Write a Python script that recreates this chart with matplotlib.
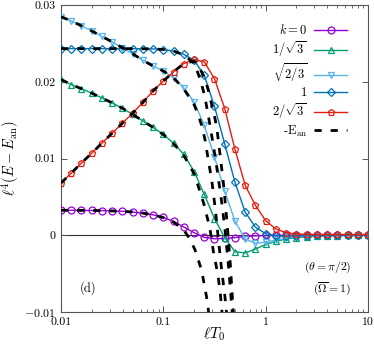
import matplotlib
matplotlib.use("Agg")
import matplotlib.pyplot as plt
import numpy as np
from matplotlib.ticker import FixedLocator, FixedFormatter, LogLocator, NullFormatter

plt.rcParams['mathtext.fontset'] = 'cm'
plt.rcParams['font.family'] = ['cmr10', 'DejaVu Serif']
plt.rcParams['axes.formatter.use_mathtext'] = True

# ---------------- data ----------------
lT = [0.01, 0.0126, 0.0158, 0.02, 0.0251, 0.0316, 0.0398, 0.0501, 0.0631, 0.0794,
      0.1, 0.126, 0.158, 0.2, 0.251, 0.316, 0.398, 0.501, 0.631, 0.794,
      1.0, 1.26, 1.58, 2.0, 2.51, 3.16, 3.98, 5.01, 6.31, 7.94, 10.0]

k0 = [0.00326, 0.00325, 0.00324, 0.00323, 0.00321, 0.00317, 0.00312, 0.00303, 0.00288, 0.00266,
      0.00232, 0.00180, 0.00108, 0.00033, -0.00028, -0.00046, -0.00042, -0.00030, -0.00016, -0.00007,
      -0.00003, -0.00001, -0.00001, 0.0, 0.0, 0.0, 0.0, 0.0, 0.0, 0.0, 0.0]

k_1s3 = [0.0203, 0.01963, 0.0191, 0.0185, 0.0179, 0.01724, 0.01655, 0.01575, 0.0149, 0.01405,
         0.01314, 0.01198, 0.01055, 0.0083, 0.00534, 0.00217, -0.0003, -0.00215, -0.0023, -0.0018,
         -0.0012, -0.0008, -0.0005, -0.0003, -0.0002, -0.00012, -0.00008, -0.00005, -0.00003, -0.00002, -0.00001]

k_s23 = [0.02847, 0.02792, 0.0273, 0.02662, 0.0259, 0.0252, 0.02443, 0.02365, 0.0228, 0.02205,
         0.0214, 0.02055, 0.01924, 0.01737, 0.01433, 0.0102, 0.00573, 0.00185, -0.0005, -0.00105,
         -0.0009, -0.0006, -0.0004, -0.00025, -0.00015, -0.0001, -0.00006, -0.00004, -0.00002, -0.00001, 0.0]

k_1 = [0.02432, 0.02432, 0.02432, 0.02432, 0.02432, 0.02432, 0.02432, 0.02431, 0.0243, 0.02428,
       0.0242, 0.0240, 0.02358, 0.0228, 0.02085, 0.0168, 0.0119, 0.0069, 0.0030, 0.00105,
       0.0002, -0.0001, -0.0001, -0.00008, -0.00005, -0.00003, -0.00002, -0.00001, 0.0, 0.0, 0.0]

k_2s3 = [0.0068, 0.0081, 0.0094, 0.0107, 0.0120, 0.0133, 0.0146, 0.0159, 0.0173, 0.0188,
         0.0201, 0.02128, 0.02237, 0.0229, 0.0226, 0.0204, 0.0165, 0.0112, 0.0065, 0.0039,
         0.0019, 0.0008, 0.00035, 0.00015, 0.00011, 0.0001, 0.0001, 0.0001, 0.0001, 0.0001, 0.0001]

# analytic approximations (-E_an), dashed
an_k0_T = [0.01, 0.0126, 0.0158, 0.02, 0.0251, 0.0316, 0.0398, 0.0501, 0.0631, 0.0794,
           0.1, 0.126, 0.158, 0.18, 0.204, 0.237, 0.265, 0.29]
an_k0 = [0.00326, 0.00325, 0.00324, 0.00323, 0.00321, 0.00317, 0.00312, 0.00303, 0.00288, 0.00266,
         0.00230, 0.00172, 0.0007, -0.0004, -0.0019, -0.0046, -0.0081, -0.0120]

an_1s3_T = [0.01, 0.0126, 0.0158, 0.02, 0.0251, 0.0316, 0.0398, 0.0501, 0.0631, 0.0794,
            0.1, 0.126, 0.158, 0.2, 0.217, 0.25, 0.285, 0.31, 0.34, 0.36, 0.38]
an_1s3 = [0.0203, 0.01963, 0.0191, 0.0185, 0.0179, 0.01724, 0.01655, 0.01575, 0.0149, 0.01405,
          0.01312, 0.01193, 0.01045, 0.0080, 0.0066, 0.0040, 0.0009, -0.0023, -0.0050, -0.0075, -0.0110]

an_s23_T = [0.01, 0.0126, 0.0158, 0.02, 0.0251, 0.0316, 0.0398, 0.0501, 0.0631, 0.0794,
            0.1, 0.126, 0.158, 0.2, 0.218, 0.237, 0.255, 0.275, 0.297, 0.32, 0.335, 0.35, 0.372, 0.40, 0.42]
an_s23 = [0.02847, 0.02792, 0.0273, 0.02662, 0.0259, 0.0252, 0.02443, 0.02365, 0.0228, 0.02205,
          0.0214, 0.0205, 0.0191, 0.0170, 0.0158, 0.0143, 0.0125, 0.0098, 0.0072, 0.0037, 0.0012,
          -0.0013, -0.0046, -0.0080, -0.0108]

an_1_T = [0.01, 0.0126, 0.0158, 0.02, 0.0251, 0.0316, 0.0398, 0.0501, 0.0631, 0.0794,
          0.1, 0.126, 0.158, 0.2, 0.23, 0.255, 0.28, 0.31, 0.34, 0.37, 0.40, 0.43, 0.455, 0.475]
an_1 = [0.02432, 0.02432, 0.02432, 0.02432, 0.02432, 0.02432, 0.02432, 0.02431, 0.0243, 0.02428,
        0.0242, 0.0240, 0.0235, 0.0224, 0.0203, 0.0180, 0.0150, 0.0115, 0.0080, 0.0045, 0.0008,
        -0.0035, -0.0075, -0.0108]

an_2s3_T = [0.01, 0.0126, 0.0158, 0.02, 0.0251, 0.0316, 0.0398, 0.0501, 0.0631, 0.0794,
            0.1, 0.126, 0.158, 0.2, 0.22, 0.255, 0.275, 0.30, 0.32, 0.335, 0.36, 0.39, 0.42, 0.45, 0.48, 0.49]
an_2s3 = [0.0068, 0.0081, 0.0094, 0.0107, 0.0120, 0.0133, 0.0146, 0.0159, 0.0173, 0.0188,
          0.0201, 0.02128, 0.02237, 0.0227, 0.0221, 0.0204, 0.0189, 0.0168, 0.0152, 0.0137,
          0.0103, 0.0063, 0.0015, -0.0035, -0.0095, -0.0112]

labels = [r'$k=0$', r'$1/\sqrt{3}$', r'$\sqrt{2/3}$', r'$1$', r'$2/\sqrt{3}$']
colors = ['#9400d3', '#009e73', '#56b4e9', '#0072b2', '#e51e10']
markers = ['o', '^', 'v', 'D', 'p']
msizes = [5.0, 4.8, 4.8, 3.8, 5.0]
series = [k0, k_1s3, k_s23, k_1, k_2s3]
an_T = [an_k0_T, an_1s3_T, an_s23_T, an_1_T, an_2s3_T]
an_V = [an_k0, an_1s3, an_s23, an_1, an_2s3]

xticks = [0.01, 0.1, 1, 10]
xticklabels = ['0.01', '0.1', '1', '10']
yticks = [-0.01, 0, 0.01, 0.02, 0.03]
yticklabels = [r'$-0.01$', '0', '0.01', '0.02', '0.03']

# ---------------- plot ----------------
fig = plt.figure(figsize=(3.74, 3.49), dpi=100)
ax = fig.add_axes([61/374, 1-312/349, (368-61)/374, (312-5)/349])

ax.axhline(0, color='#333333', lw=0.8, zorder=1)

handles = []
for y, c, m, ms, lab in zip(series, colors, markers, msizes, labels):
    h, = ax.plot(lT, y, color=c, marker=m, ms=ms, mfc='none', mec=c, mew=0.9,
                 lw=1.0, label=lab, zorder=3)
    handles.append(h)

for tt, vv in zip(an_T, an_V):
    hd, = ax.plot(tt, vv, color='k', lw=2.0, ls=(0, (2.6, 3.2)), zorder=4,
                  label=r'-E$_{\rm an}$')
handles.append(hd)

ax.set_xscale('log')
ax.set_xlim(0.01, 10)
ax.set_ylim(-0.01, 0.03)

ax.xaxis.set_major_locator(FixedLocator(xticks))
ax.xaxis.set_major_formatter(FixedFormatter(xticklabels))
ax.xaxis.set_minor_locator(LogLocator(base=10, subs=np.arange(2, 10), numticks=20))
ax.xaxis.set_minor_formatter(NullFormatter())
ax.yaxis.set_major_locator(FixedLocator(yticks))
ax.yaxis.set_major_formatter(FixedFormatter(yticklabels))

ax.tick_params(which='both', direction='in', top=True, right=True, labelsize=8.5,
               color='#555555')
ax.tick_params(which='major', length=4, width=0.7, pad=4)
ax.tick_params(which='minor', length=2.5, width=0.6)
for s in ax.spines.values():
    s.set_color('#555555')
    s.set_linewidth(0.8)

ax.set_xlabel(r'$\ell T_0$', fontsize=11)
ax.xaxis.set_label_coords(0.5, -0.045)
ax.set_ylabel(r'$\ell^4(E-E_{\rm an})$', fontsize=10.5)
ax.yaxis.set_label_coords(-0.13, 0.5)

leg = ax.legend(handles=handles, loc='upper right', bbox_to_anchor=(0.96, 0.97),
                frameon=False, markerfirst=False, fontsize=9, handlelength=2.6,
                labelspacing=0.18, borderpad=0.2, handletextpad=0.6)
for t in leg.get_texts():
    t.set_ha('right')
leg._legend_box.align = 'right'

ax.text(0.06, 0.055, '(d)', transform=ax.transAxes, fontsize=9, ha='left', va='bottom')
ax.text(0.945, 0.12, r'$(\theta=\pi/2)$', transform=ax.transAxes, fontsize=8.5, ha='right', va='bottom')
ax.text(0.945, 0.045, r'$(\overline{\Omega}=1)$', transform=ax.transAxes, fontsize=8.5, ha='right', va='bottom')

fig.savefig('out.png', dpi=100)
